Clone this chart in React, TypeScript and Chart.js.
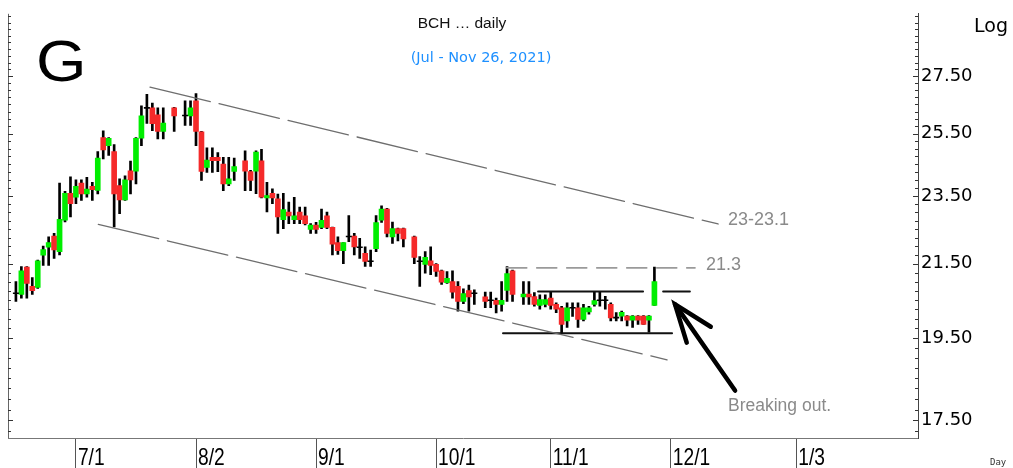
import React, { useEffect, useRef } from 'react';
import { Chart, registerables } from 'chart.js';

Chart.register(...registerables);

// ---- data (slot = weekday index, 0 = Jun 16 2021; null = no bar) ----
const opens: (number | null)[] = [
  20.65, 20.65, 21.40, 20.87, 20.84, 21.74, 21.97, 22.29, 21.84, 22.76,
  23.58, 23.46, 23.90, 23.56, 23.80, 23.67, 25.37, 25.10, 24.91, 23.82,
  23.38, 24.29, 24.28, 25.35, 26.36, 26.38, 26.14, 25.58, null, 26.38,
  null, 26.10, 26.10, 26.63, 25.56, 24.40, 24.72, 24.72, 24.50, 23.87,
  24.27, null, 24.61, 24.26, 24.28, 24.61, 23.44, 23.58, 23.41, 22.78,
  23.01, 22.78, 23.01, 22.89, 22.49, 22.62, 22.55, 22.89, 22.55, 22.10,
  21.87, 22.26, 22.29, 22.00, 21.79, 21.55, 21.93, 22.76, 23.10, 22.27,
  22.51, 22.51, null, 22.27, 21.55, 21.48, 21.58, 21.48, 21.30, 20.97,
  21.00, 20.87, 20.46, 20.75, 20.66, null, 20.58, 20.47, 20.49, 20.38,
  20.76, 21.30, null, 20.58, 20.66, 20.59, 20.35, 20.38, 20.55, 20.38,
  20.29, 19.94, 20.25, 20.29, 19.98, 20.18, 20.38, 20.47, 20.47, 20.38,
  20.01, 20.07, 20.07, 19.96, 20.07, 20.07, 19.96, 20.35,
];
const highs: (number | null)[] = [
  21.00, 21.42, 21.42, 21.11, 21.60, 22.00, 22.27, 22.37, 23.90, 23.64,
  24.10, 24.00, 24.00, 24.08, 23.92, 24.91, 25.60, 25.37, 25.14, 24.03,
  24.13, 24.60, 25.37, 26.45, 26.85, 26.55, 26.38, 26.38, null, 26.40,
  null, 26.63, 26.63, 26.88, 25.58, 25.03, 25.03, 24.88, 24.72, 24.72,
  24.70, null, 24.93, 24.30, 24.93, 24.98, 23.92, 23.72, 23.56, 23.58,
  23.31, 23.46, 23.16, 23.16, 22.66, 22.70, 23.10, 23.01, 22.56, 22.27,
  22.10, 22.90, 22.37, 22.23, 21.98, 21.89, 22.90, 23.20, 23.12, 22.71,
  22.53, 22.53, null, 22.29, 21.70, 21.84, 21.98, 21.50, 21.32, 21.28,
  21.30, 21.00, 20.80, 20.90, 20.77, null, 20.71, 20.71, 20.55, 21.00,
  21.42, 21.32, null, 21.00, 21.00, 20.70, 20.64, 20.64, 20.73, 20.42,
  20.33, 20.42, 20.42, 20.42, 20.38, 20.33, 20.73, 20.73, 20.60, 20.42,
  20.16, 20.20, 20.08, 20.08, 20.08, 20.08, 20.08, 21.40,
];
const lows: (number | null)[] = [
  20.46, 20.55, 20.55, 20.65, 20.81, 21.45, 21.45, 21.65, 21.75, 22.71,
  22.86, 23.26, 23.36, 23.46, 23.36, 23.56, 24.67, 24.78, 22.56, 22.96,
  23.36, 23.56, 23.87, 25.10, 25.85, 25.60, 25.33, 25.33, null, 25.58,
  null, 25.78, 25.78, 25.10, 23.98, 24.24, 24.24, 24.26, 23.66, 23.82,
  23.98, null, 23.66, 23.66, 23.57, 23.44, 23.01, 23.26, 22.37, 22.51,
  22.66, 22.66, 22.66, 22.62, 22.37, 22.37, 22.51, 22.51, 21.75, 21.76,
  21.50, 22.13, 21.75, 21.65, 21.42, 21.42, 21.84, 22.70, 22.27, 22.08,
  22.15, 21.98, null, 21.50, 20.87, 21.23, 21.19, 21.14, 20.92, 20.95,
  20.55, 20.20, 20.40, 20.20, 20.38, null, 20.29, 20.29, 20.15, 20.20,
  20.46, 20.46, null, 20.38, 20.38, 20.33, 20.25, 20.31, 20.25, 20.16,
  19.64, 19.77, 20.06, 19.77, 19.94, 20.12, 20.33, 20.33, 20.25, 19.94,
  19.94, 19.94, 19.81, 19.77, 19.85, 19.85, 19.65, 20.35,
];
const closes: (number | null)[] = [
  20.68, 21.30, 20.95, 20.75, 21.58, 21.90, 22.10, 21.89, 22.79, 23.58,
  23.26, 23.80, 23.56, 23.71, 23.69, 24.70, 24.96, 25.35, 23.56, 23.38,
  24.00, 24.00, 25.35, 26.11, 26.38, 25.84, 25.58, 25.86, null, 26.10,
  null, 26.12, 26.38, 25.58, 24.27, 24.63, 24.61, 24.61, 23.87, 24.03,
  24.42, null, 24.28, 23.98, 24.89, 23.46, 23.51, 23.44, 22.86, 23.08,
  22.89, 22.89, 22.78, 22.66, 22.62, 22.49, 22.76, 22.55, 22.06, 21.87,
  22.10, 22.28, 21.98, 21.97, 21.56, 21.57, 22.69, 23.10, 22.37, 22.51,
  22.37, 22.21, null, 21.68, 21.57, 21.68, 21.45, 21.28, 20.98, 21.09,
  20.71, 20.46, 20.67, 20.58, 20.68, null, 20.46, 20.49, 20.38, 20.49,
  21.22, 20.65, null, 20.66, 20.58, 20.38, 20.51, 20.51, 20.35, 20.25,
  19.85, 20.29, 20.29, 19.98, 20.29, 20.29, 20.48, 20.49, 20.49, 20.02,
  20.03, 20.17, 19.96, 20.07, 19.96, 19.85, 20.07, 21.00,
];

const monthTickSlots = [11, 33, 55, 77, 98, 120, 143];
const monthTickLabels = ['7/1', '8/2', '9/1', '10/1', '11/1', '12/1', '1/3'];
const priceTickValues = [17.5, 19.5, 21.5, 23.5, 25.5, 27.5];

// drawn trend lines, in (slot, price)
const upperChannel = [{ x: 24.57, y: 27.11 }, { x: 128.66, y: 22.65 }];
const lowerChannel = [{ x: 15.1, y: 22.64 }, { x: 119.32, y: 18.95 }];
const resistance213 = [{ x: 89.94, y: 21.38 }, { x: 124.44, y: 21.38 }];
const rangeTopLeft = [{ x: 95.68, y: 20.73 }, { x: 114.92, y: 20.73 }];
const rangeTopRight = [{ x: 118.6, y: 20.73 }, { x: 123.5, y: 20.73 }];
const rangeBottom = [{ x: 89.26, y: 19.62 }, { x: 120.23, y: 19.62 }];
const arrowShaft = [{ x: 131.78, y: 18.2 }, { x: 120.78, y: 20.38 }];
const arrowHead = [{ x: 122.92, y: 19.38 }, { x: 120.78, y: 20.38 }, { x: 127.32, y: 19.79 }];

const W = 1013;
const H = 468;
const GREEN = '#00EE00';
const RED = '#F52A2A';

const overlayPlugin = {
  id: 'overlay',
  afterDraw(chart: any) {
    const { ctx, chartArea, scales } = chart;
    const ys = scales.y;
    const xs = scales.x;
    ctx.save();
    // left frame line
    ctx.strokeStyle = '#666';
    ctx.lineWidth = 1;
    ctx.beginPath();
    ctx.moveTo(chartArea.left + 0.5, chartArea.top);
    ctx.lineTo(chartArea.left + 0.5, chartArea.bottom);
    ctx.stroke();
    // minor ticks on both edges
    ctx.strokeStyle = '#333';
    for (let v = 17.25; v < 29.8; v += 0.25) {
      const py = Math.round(ys.getPixelForValue(v)) + 0.5;
      if (py < chartArea.top || py > chartArea.bottom) continue;
      const major = priceTickValues.some((t) => Math.abs(t - v) < 0.01);
      const len = major ? 5 : 3;
      ctx.beginPath();
      ctx.moveTo(chartArea.right - len, py);
      ctx.lineTo(chartArea.right, py);
      ctx.moveTo(chartArea.left, py);
      ctx.lineTo(chartArea.left + len, py);
      ctx.stroke();
    }
    // x labels (narrow)
    ctx.fillStyle = '#000';
    ctx.textBaseline = 'alphabetic';
    ctx.textAlign = 'left';
    monthTickSlots.forEach((s, i) => {
      const px = xs.getPixelForValue(s);
      ctx.save();
      ctx.translate(px + 2, 465);
      ctx.scale(0.8, 1);
      ctx.font = '24px "Liberation Sans", Arial, sans-serif';
      ctx.fillText(monthTickLabels[i], 0, 0);
      ctx.restore();
    });
    // big G
    ctx.save();
    ctx.translate(36, 81);
    ctx.scale(1.14, 1);
    ctx.font = '57px "Liberation Sans", Arial, sans-serif';
    ctx.fillText('G', 0, 0);
    ctx.restore();
    // titles
    ctx.textAlign = 'center';
    ctx.font = '15.5px "Liberation Sans", Arial, sans-serif';
    ctx.fillStyle = '#111';
    ctx.fillText('BCH \u2026 daily', 462, 28);
    ctx.font = '14.5px "DejaVu Sans", sans-serif';
    ctx.fillStyle = '#1E90FF';
    ctx.fillText('(Jul - Nov 26, 2021)', 481, 62);
    ctx.textAlign = 'left';
    ctx.fillStyle = '#000';
    ctx.font = '19px "DejaVu Sans", sans-serif';
    ctx.fillText('Log', 974, 32);
    ctx.font = '9px "DejaVu Sans Mono", monospace';
    ctx.fillStyle = '#333';
    ctx.fillText('Day', 990, 465);
    // annotations text
    ctx.fillStyle = '#8A8A8A';
    ctx.font = '18px "Liberation Sans", Arial, sans-serif';
    ctx.fillText('23-23.1', 728, 225);
    ctx.fillText('21.3', 706, 270);
    ctx.font = '17.5px "Liberation Sans", Arial, sans-serif';
    ctx.fillText('Breaking out.', 728, 411);
    ctx.restore();
  },
};

export default function App() {
  const ref = useRef<HTMLCanvasElement>(null);
  useEffect(() => {
    document.body.style.margin = '0';
    const canvas = ref.current;
    if (!canvas) return;
    const wickData: any[] = [];
    const bodyData: any[] = [];
    const bodyColors: string[] = [];
    const dojiData: any[] = [];
    for (let i = 0; i < opens.length; i++) {
      const o = opens[i], h = highs[i], l = lows[i], c = closes[i];
      if (o == null || h == null || l == null || c == null) continue;
      wickData.push({ x: i, y: [l, h] });
      if (Math.abs(c - o) < 0.04) {
        dojiData.push({ x: i, y: c });
      } else {
        bodyData.push({ x: i, y: [Math.min(o, c), Math.max(o, c)] });
        bodyColors.push(c > o ? GREEN : RED);
      }
    }
    const lineDs = (data: any[], color: string, width: number, dash: number[] = []) => ({
      type: 'line',
      data,
      borderColor: color,
      borderWidth: width,
      borderDash: dash,
      pointRadius: 0,
      fill: false,
      tension: 0,
      order: 0,
      borderCapStyle: 'round',
    });
    const chart = new Chart(canvas, {
      type: 'bar',
      data: {
        datasets: [
          { type: 'bar', data: wickData, backgroundColor: '#000', barThickness: 2, grouped: false, order: 3 } as any,
          { type: 'bar', data: bodyData, backgroundColor: bodyColors, barThickness: 5, grouped: false, order: 2 } as any,
          {
            type: 'line', data: dojiData, showLine: false, pointStyle: 'line', pointRadius: 3,
            borderColor: '#000', pointBorderWidth: 1.6, order: 1,
          } as any,
          lineDs(upperChannel, '#6E6E6E', 1.3, [62, 9]),
          lineDs(lowerChannel, '#6E6E6E', 1.3, [62, 9]),
          lineDs(resistance213, '#9A9A9A', 1.6, [20, 10]),
          lineDs(rangeTopLeft, '#111', 2),
          lineDs(rangeTopRight, '#111', 2),
          lineDs(rangeBottom, '#111', 2),
          lineDs(arrowShaft, '#000', 4.5),
          lineDs(arrowHead, '#000', 4.5),
        ] as any,
      },
      options: {
        responsive: false,
        animation: false,
        events: [],
        layout: { padding: { left: 8, top: 10, right: 0, bottom: 0 } },
        plugins: { legend: { display: false }, tooltip: { enabled: false }, title: { display: false } },
        scales: {
          x: {
            type: 'linear',
            min: -1.45,
            max: 165.3,
            offset: false,
            afterBuildTicks: (axis: any) => {
              axis.ticks = monthTickSlots.map((v) => ({ value: v }));
            },
            afterFit: (axis: any) => {
              axis.height = 30;
            },
            ticks: { display: false },
            grid: { display: true, drawOnChartArea: false, drawTicks: true, tickLength: 30, color: '#555', lineWidth: 1, offset: false },
            border: { display: true, color: '#777', width: 1 },
          },
          y: {
            type: 'logarithmic',
            position: 'right',
            min: 17.1,
            max: 29.85,
            afterBuildTicks: (axis: any) => {
              axis.ticks = priceTickValues.map((v) => ({ value: v }));
            },
            afterFit: (axis: any) => {
              axis.width = 95;
            },
            ticks: {
              padding: 3,
              color: '#000',
              font: { family: '"DejaVu Sans", sans-serif', size: 18 },
              callback: (v: any) => Number(v).toFixed(2),
            },
            grid: { display: false, drawTicks: false },
            border: { display: true, color: '#444', width: 1 },
          },
        },
      } as any,
      plugins: [overlayPlugin],
    });
    return () => chart.destroy();
  }, []);
  return (
    <div style={{ width: W, height: H, background: '#fff' }}>
      <canvas ref={ref} width={W} height={H} style={{ display: 'block', width: W, height: H }} />
    </div>
  );
}
